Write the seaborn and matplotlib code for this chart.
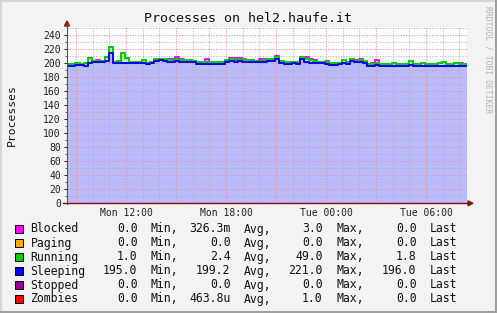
import numpy as np
import pandas as pd
import matplotlib
matplotlib.use("Agg")
import matplotlib.pyplot as plt
import seaborn as sns
from matplotlib.patches import Rectangle, Polygon
from matplotlib.lines import Line2D

# ---------------- data ----------------
title = "Processes on hel2.haufe.it"
y_label = "Processes"
watermark = "RRDTOOL / TOBI OETIKER"

start_hour = 8.46      # Mon 08:28 (hours since Mon 00:00)
step_hours = 0.25

sleeping = [196.3, 196.3, 197.3, 197.3, 196.0, 200.6, 201.6, 201.6, 201.6, 203.0,
            214.0, 200.6, 200.6, 200.6, 200.6, 200.6, 200.6, 200.6, 200.6, 198.7,
            200.6, 203.5, 204.4, 203.5, 202.0, 202.0, 203.5, 202.0, 202.0, 202.0,
            201.6, 198.7, 198.2, 198.2, 198.7, 198.7, 198.7, 198.7, 201.6, 203.0,
            201.6, 203.0, 201.6, 202.0, 202.0, 201.1, 201.1, 202.0, 203.0, 203.0,
            205.4, 199.7, 198.2, 198.2, 199.7, 198.7, 205.4, 202.0, 200.6, 199.7,
            199.7, 199.7, 198.7, 197.3, 196.8, 198.7, 199.7, 198.7, 203.5, 201.6,
            201.6, 200.6, 196.3, 196.3, 197.3, 196.3, 196.3, 195.4, 196.3, 196.3,
            196.3, 196.3, 197.3, 196.3, 195.4, 196.3, 196.3, 196.3, 195.4, 196.3,
            196.3, 196.3, 195.4, 196.3, 196.3, 195.4]

running = [1.9, 1.9, 3.3, 0.9, 3.7, 6.2, 0.9, 1.9, 0.9, 5.0,
           8.5, 1.0, 2.9, 13.3, 6.2, 1.0, 1.0, 1.0, 3.8, 1.9,
           1.0, 1.9, 1.9, 1.9, 2.4, 2.4, 2.8, 2.0, 2.0, 2.0,
           0.9, 2.9, 3.4, 3.8, 2.9, 2.9, 2.9, 2.9, 2.8, 2.4,
           2.8, 2.4, 2.4, 2.4, 2.4, 2.4, 2.4, 2.4, 2.4, 2.4,
           3.8, 2.6, 3.4, 3.4, 2.3, 2.9, 2.8, 3.4, 3.8, 2.8,
           1.9, 1.9, 2.9, 2.4, 2.9, 1.9, 4.7, 2.9, 1.9, 1.9,
           2.8, 2.9, 2.4, 2.4, 2.4, 1.9, 1.9, 2.8, 3.4, 2.4,
           2.4, 2.4, 5.2, 2.4, 3.3, 3.4, 2.4, 2.4, 3.3, 3.4,
           5.3, 2.4, 2.8, 3.4, 2.4, 2.8]

blocked = [0.0, 0.0, 0.0, 0.0, 0.0, 0.0, 0.0, 1.0, 0.0, 1.0,
           0.0, 0.0, 0.0, 0.0, 0.0, 0.0, 0.0, 0.0, 0.0, 0.0,
           0.0, 0.0, 0.0, 0.9, 1.9, 1.9, 2.9, 1.4, 0.0, 0.0,
           0.0, 0.0, 0.0, 3.4, 0.4, 0.4, 0.4, 0.0, 0.0, 1.4,
           2.4, 1.4, 1.4, 0.0, 0.0, 0.0, 1.9, 1.0, 0.9, 0.9,
           0.9, 0.0, 0.0, 0.0, 0.0, 0.0, 0.0, 2.8, 1.0, 1.9,
           0.0, 0.0, 0.9, 0.0, 0.0, 0.0, 0.0, 0.0, 0.0, 0.9,
           1.0, 0.0, 0.0, 1.0, 4.7, 0.0, 0.0, 0.0, 0.0, 0.0,
           0.0, 0.0, 0.0, 0.0, 0.0, 0.0, 0.0, 0.0, 0.0, 0.0,
           0.0, 0.0, 0.0, 0.9, 0.9, 0.0]

x_tick_hours = [12, 18, 24, 30]
x_tick_labels = ["Mon 12:00", "Mon 18:00", "Tue 00:00", "Tue 06:00"]
y_ticks = [0, 20, 40, 60, 80, 100, 120, 140, 160, 180, 200, 220, 240]

legend_names = ["Blocked", "Paging", "Running", "Sleeping", "Stopped", "Zombies"]
legend_colors = ["#FF00FF", "#FFAA00", "#00CC00", "#0000FF", "#990099", "#FF0000"]
min_vals = ["0.0", "0.0", "1.0", "195.0", "0.0", "0.0"]
avg_vals = ["326.3m", "0.0", "2.4", "199.2", "0.0", "463.8u"]
max_vals = ["3.0", "0.0", "49.0", "221.0", "0.0", "1.0"]
last_vals = ["0.0", "0.0", "1.8", "196.0", "0.0", "0.0"]

# ---------------- figure ----------------
W, H = 497, 313
plt.rcParams["font.family"] = ["DejaVu Sans Mono"]
fig = plt.figure(figsize=(W / 100, H / 100), dpi=100, facecolor="#f3f3f3")


def fx(x):
    return x / W


def fy(y):
    return 1 - y / H


x0, x1 = 67, 467
ytop, ybot = 27, 203.3
ymax = 251.4
ax = fig.add_axes([fx(x0), fy(ybot), (x1 - x0) / W, (ybot - ytop) / H])
ax.set_facecolor("white")

n = len(sleeping)
t = start_hour + step_hours * np.arange(n + 1)
s = np.array(sleeping + [sleeping[-1]])
r = np.array(running + [running[-1]])
b = np.array(blocked + [blocked[-1]])
run_top = s + r
blk_top = run_top + b
df = pd.DataFrame({"t": t, "sleeping": s, "running_top": run_top, "blocked_top": blk_top})

ax.fill_between(df["t"], 0, df["sleeping"], step="post", color="#bbbbff", lw=0, zorder=1)
ax.fill_between(df["t"], df["sleeping"], df["running_top"], step="post", color="#bbffbb", lw=0, zorder=1)
ax.fill_between(df["t"], df["running_top"], df["blocked_top"], step="post", color="#ffbbff", lw=0, zorder=1)

# grid
minor_c = "#b4b4b4"
major_c = "#e39393"
for h in range(9, 33):
    if h % 3 == 0:
        continue
    ax.axvline(h, color=minor_c, lw=0.75, ls=(0, (1, 1.5)), zorder=1.5)
for h in range(9, 33, 3):
    ax.axvline(h, color=major_c, lw=0.75, ls=(0, (1, 1.5)), zorder=1.6)
for v in range(10, 260, 20):
    ax.axhline(v, color=minor_c, lw=0.75, ls=(0, (1, 1.5)), zorder=1.5)
for v in y_ticks[1:]:
    ax.axhline(v, color=major_c, lw=0.75, ls=(0, (1, 1.5)), zorder=1.6)

lw = 1.45
sns.lineplot(x=df["t"], y=df["blocked_top"], ax=ax, color="#FF00FF", lw=lw,
             drawstyle="steps-post", zorder=3, estimator=None, sort=False)
sns.lineplot(x=df["t"], y=df["running_top"], ax=ax, color="#00CC00", lw=lw,
             drawstyle="steps-post", zorder=4, estimator=None, sort=False)
sns.lineplot(x=df["t"], y=df["sleeping"], ax=ax, color="#0000FF", lw=lw,
             drawstyle="steps-post", zorder=5, estimator=None, sort=False)

ax.set_xlim(start_hour, start_hour + 24)
ax.set_ylim(0, ymax)
ax.set_xticks(x_tick_hours)
ax.set_xticklabels(x_tick_labels)
ax.set_yticks(y_ticks)
ax.set_yticklabels([str(v) for v in y_ticks])
ax.set_yticks(list(range(10, 250, 20)), minor=True)
ax.tick_params(axis="x", length=0, pad=3.5, labelsize=7, colors="#222222")
ax.tick_params(axis="y", which="major", length=2.2, width=0.7, pad=2.3, labelsize=7,
               colors="#222222")
ax.tick_params(axis="y", which="minor", length=1.5, width=0.7, colors="#555555")
ax.set_xlabel("")
ax.set_ylabel("")
for sp in ax.spines.values():
    sp.set_visible(False)

# axis lines with arrows (figure pixel coords)
fig.add_artist(Line2D([fx(67), fx(67)], [fy(204), fy(24)], color="#555555", lw=0.8))
fig.add_artist(Line2D([fx(63), fx(469)], [fy(203.3), fy(203.3)], color="#8b0000", lw=1.0))
fig.add_artist(Polygon([[fx(64.5), fy(26)], [fx(69.5), fy(26)], [fx(67), fy(21)]],
                       closed=True, color="#8b1a1a", transform=fig.transFigure))
fig.add_artist(Polygon([[fx(468), fy(200.8)], [fx(468), fy(205.8)], [fx(473), fy(203.3)]],
                       closed=True, color="#8b1a1a", transform=fig.transFigure))

# texts
fig.text(fx(248), fy(19), title, ha="center", va="center", fontsize=9.6, color="#111111")
fig.text(fx(12), fy(115), y_label, ha="center", va="center", rotation=90, fontsize=8.2,
         color="#111111")
fig.text(fx(488), fy(60), watermark, ha="center", va="center", rotation=270, fontsize=5.8,
         color="#b4b4b4")

# legend
row_y = [229, 243, 257, 271, 285, 299]
for i, name in enumerate(legend_names):
    y = row_y[i]
    fig.add_artist(Rectangle((fx(15), fy(y + 4)), 8 / W, 8 / H, transform=fig.transFigure,
                             facecolor=legend_colors[i], edgecolor="black", lw=0.7))
    kw = dict(va="center", fontsize=8.3, color="#111111")
    fig.text(fx(30.5), fy(y), name, ha="left", **kw)
    fig.text(fx(137.5), fy(y), min_vals[i], ha="right", **kw)
    fig.text(fx(150.5), fy(y), "Min,", ha="left", **kw)
    fig.text(fx(230.5), fy(y), avg_vals[i], ha="right", **kw)
    fig.text(fx(243.5), fy(y), "Avg,", ha="left", **kw)
    fig.text(fx(322.5), fy(y), max_vals[i], ha="right", **kw)
    fig.text(fx(336.5), fy(y), "Max,", ha="left", **kw)
    fig.text(fx(416.5), fy(y), last_vals[i], ha="right", **kw)
    fig.text(fx(429.5), fy(y), "Last", ha="left", **kw)

# outer border
fig.add_artist(Line2D([0, 1], [fy(0.5), fy(0.5)], color="#d6d6d6", lw=1.5))
fig.add_artist(Line2D([fx(0.5), fx(0.5)], [0, 1], color="#d6d6d6", lw=1.5))
fig.add_artist(Line2D([0, 1], [fy(312), fy(312)], color="#a0a0a0", lw=1.5))
fig.add_artist(Line2D([fx(496), fx(496)], [0, 1], color="#a0a0a0", lw=1.5))

fig.savefig("out.png", dpi=100, facecolor=fig.get_facecolor())
